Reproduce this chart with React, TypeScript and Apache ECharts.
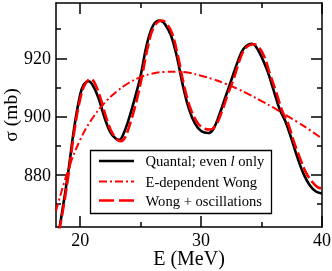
import React, { useEffect, useRef } from "react";
import * as echarts from "echarts";

// Quantal; even l only (black solid)
const quantalE = [18.0, 18.5, 19.0, 19.5, 20.0, 20.3, 20.7, 21.0, 21.5, 22.0, 22.5, 23.0, 23.25, 23.5, 24.0, 24.5, 25.0, 25.5, 26.0, 26.5, 26.8, 27.0, 27.5, 28.0, 28.5, 29.0, 29.5, 30.0, 30.6, 31.0, 31.5, 32.0, 32.5, 33.0, 33.5, 34.2, 34.5, 35.0, 35.5, 36.0, 36.5, 37.0, 37.5, 38.0, 38.5, 39.0, 39.5, 40.0];
const quantalSigma = [855, 867, 880.5, 896, 907.5, 911, 912.1, 911, 906.5, 899.8, 894.5, 892.2, 892, 893.2, 898.8, 906, 914, 924.5, 931, 933, 932.6, 931.8, 928, 920.5, 910.5, 902.5, 897.5, 895, 894.3, 895.6, 900.5, 906.5, 912.5, 918.5, 923.2, 925, 924.2, 920.5, 915.5, 909, 902.5, 898, 892, 885.5, 880, 876.3, 874.2, 873.5];

// E-dependent Wong (red dash-dot)
const wongE = [18, 19, 20, 21, 22, 23, 24, 25, 26, 27, 28, 29, 30, 31, 32, 33, 34, 35, 36, 37, 38, 39, 40];
const wongSigma = [867.5, 881.5, 892, 899.3, 904.6, 908.5, 911.5, 913.5, 914.8, 915.3, 915.4, 915, 914, 912.8, 911.3, 909.5, 907.5, 905.3, 903, 900.5, 898, 895.3, 892.4];

// Wong + oscillations (red dashed)
const oscE = [18.0, 18.5, 19.0, 19.5, 20.0, 20.4, 20.85, 21.2, 21.7, 22.2, 22.7, 23.35, 23.7, 24.2, 24.7, 25.1, 25.6, 26.1, 26.75, 27.1, 27.6, 28.1, 28.6, 29.1, 29.6, 30.1, 30.75, 31.2, 31.7, 32.2, 32.7, 33.2, 33.7, 34.4, 34.7, 35.2, 35.7, 36.2, 36.7, 37.2, 37.7, 38.2, 38.7, 39.2, 39.6, 40.0];
const oscSigma = [855, 866, 879, 894.5, 906, 911, 912.9, 911.5, 906, 899, 894, 891.5, 892.7, 898.5, 906, 913.5, 924, 930.8, 933, 932.2, 928.5, 920.5, 910.5, 903, 898.5, 896.2, 895.5, 896.8, 901.5, 907.5, 913, 919.5, 923.6, 924.8, 924.2, 920.8, 914.5, 908.5, 902, 897.5, 891, 885.5, 880.5, 877.5, 875.8, 875.2];

const xMajor = [20, 30, 40];
const xMinor = [25, 35];
const yMajor = [880, 900, 920];
const yMinor = [870, 890, 910, 930];

const legendNames = ["Quantal; even {i|l} only", "E-dependent Wong", "Wong + oscillations"];

const FONT = "Liberation Serif";

function pairs(xs: number[], ys: number[]) {
  return xs.map((x, i) => [x, ys[i]]);
}

export default function App() {
  const ref = useRef<HTMLDivElement>(null);
  useEffect(() => {
    document.body.style.margin = "0";
    const chart = echarts.init(ref.current!, undefined, { renderer: "svg" });
    const lineC = { color: "#000", width: 1.5 };
    const mkX = (pos: string, major: boolean, main: boolean) => ({
      type: "value",
      position: pos,
      min: 18,
      max: 40,
      gridIndex: 0,
      axisLine: { show: main, onZero: false, lineStyle: lineC },
      axisTick: {
        show: true,
        inside: true,
        length: major ? 11 : 5,
        lineStyle: lineC,
        customValues: major ? xMajor : xMinor,
      },
      axisLabel: {
        show: main && pos === "bottom",
        customValues: xMajor,
        color: "#000",
        fontFamily: FONT,
        fontSize: 18,
        margin: 4,
      },
      splitLine: { show: false },
      name: main && pos === "bottom" ? "E (MeV)" : "",
      nameLocation: "middle",
      nameGap: 21,
      nameMoveOverlap: false,
      nameTextStyle: { color: "#000", fontFamily: FONT, fontSize: 20 },
    });
    const mkY = (pos: string, major: boolean, main: boolean) => ({
      type: "value",
      position: pos,
      min: 862,
      max: 939,
      gridIndex: 0,
      axisLine: { show: main, onZero: false, lineStyle: lineC },
      axisTick: {
        show: true,
        inside: true,
        length: major ? 11 : 5,
        lineStyle: lineC,
        customValues: major ? yMajor : yMinor,
      },
      axisLabel: {
        show: main && pos === "left",
        customValues: yMajor,
        color: "#000",
        fontFamily: FONT,
        fontSize: 18,
        margin: 5,
      },
      splitLine: { show: false },
      name: main && pos === "left" ? "σ (mb)" : "",
      nameLocation: "middle",
      nameRotate: 90,
      nameGap: 36,
      nameMoveOverlap: false,
      nameTextStyle: { color: "#000", fontFamily: FONT, fontSize: 19.5 },
    });

    const lx1 = 99, lx2 = 134, tx = 145.5;
    const rows = [161, 181.5, 200.5];
    chart.setOption({
      animation: false,
      grid: { left: 56, right: 10, top: 3, bottom: 44, containLabel: false, outerBoundsMode: "none" },
      xAxis: [mkX("bottom", true, true), mkX("bottom", false, false), mkX("top", true, true), mkX("top", false, false)],
      yAxis: [mkY("left", true, true), mkY("left", false, false), mkY("right", true, true), mkY("right", false, false)],
      series: [
        {
          type: "line",
          name: "Quantal",
          data: pairs(quantalE, quantalSigma),
          showSymbol: false,
          smooth: 0.4,
          lineStyle: { color: "#000", width: 2.6 },
          z: 2,
        },
        {
          type: "line",
          name: "Wong",
          data: pairs(wongE, wongSigma),
          showSymbol: false,
          smooth: 0.4,
          lineStyle: { color: "#ff0000", width: 2, type: [8, 3, 2, 3] },
          z: 3,
        },
        {
          type: "line",
          name: "Osc",
          data: pairs(oscE, oscSigma),
          showSymbol: false,
          smooth: 0.4,
          lineStyle: { color: "#ff0000", width: 2.6, type: [12, 4] },
          z: 4,
        },
      ],
      graphic: [
        {
          type: "rect",
          shape: { x: 90.5, y: 150.5, width: 181, height: 63 },
          style: { fill: "#fff", stroke: "#000", lineWidth: 1.3 },
          z: 10,
        },
        {
          type: "line",
          shape: { x1: lx1, y1: rows[0], x2: lx2, y2: rows[0] },
          style: { stroke: "#000", lineWidth: 2.6 },
          z: 11,
        },
        {
          type: "line",
          shape: { x1: lx1, y1: rows[1], x2: lx2, y2: rows[1] },
          style: { stroke: "#ff0000", lineWidth: 2, lineDash: [8, 3, 2, 3] },
          z: 11,
        },
        {
          type: "line",
          shape: { x1: lx1, y1: rows[2], x2: lx2, y2: rows[2] },
          style: { stroke: "#ff0000", lineWidth: 2.6, lineDash: [15, 5] },
          z: 11,
        },
        ...legendNames.map((t, i) => ({
          type: "text",
          x: tx,
          y: rows[i],
          z: 11,
          style: {
            text: t,
            fill: "#000",
            fontFamily: FONT,
            fontSize: 14.6,
            verticalAlign: "middle",
            align: "left",
            rich: { i: { fontStyle: "italic", fontFamily: FONT, fontSize: 14.6, fill: "#000" } },
          },
        })),
      ],
    });
    return () => chart.dispose();
  }, []);
  return <div ref={ref} style={{ position: "fixed", left: 0, top: 0, width: 332, height: 271 }} />;
}
